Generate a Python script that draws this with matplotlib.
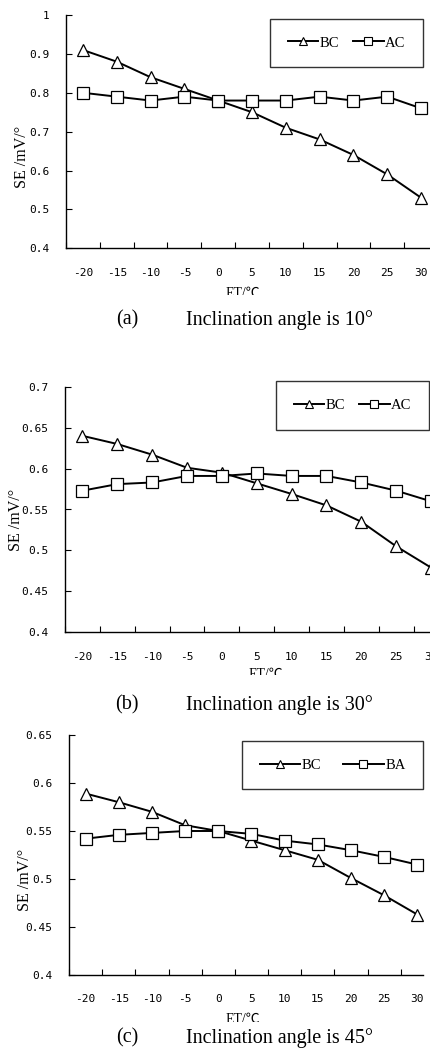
import matplotlib
matplotlib.use("Agg")
import matplotlib.pyplot as plt
from matplotlib.lines import Line2D
from matplotlib.transforms import Bbox

W, H = 430, 1057
DPI = 100

temps = [-20, -15, -10, -5, 0, 5, 10, 15, 20, 25, 30]
tick_labels = ["-20", "-15", "-10", "-5", "0", "5", "10", "15", "20", "25", "30"]

bc_10 = [0.91, 0.88, 0.84, 0.81, 0.78, 0.75, 0.71, 0.68, 0.64, 0.59, 0.53]
ac_10 = [0.80, 0.79, 0.78, 0.79, 0.78, 0.78, 0.78, 0.79, 0.78, 0.79, 0.76]

bc_30 = [0.640, 0.630, 0.617, 0.601, 0.595, 0.582, 0.569, 0.555, 0.535, 0.505, 0.479]
ac_30 = [0.573, 0.581, 0.583, 0.591, 0.591, 0.594, 0.591, 0.591, 0.583, 0.573, 0.560]

bc_45 = [0.589, 0.580, 0.570, 0.556, 0.550, 0.540, 0.530, 0.520, 0.501, 0.483, 0.463]
ba_45 = [0.542, 0.546, 0.548, 0.550, 0.550, 0.547, 0.540, 0.536, 0.530, 0.523, 0.515]

yticks_a = [0.4, 0.5, 0.6, 0.7, 0.8, 0.9, 1.0]
ylabels_a = ["0.4", "0.5", "0.6", "0.7", "0.8", "0.9", "1"]
yticks_b = [0.4, 0.45, 0.5, 0.55, 0.6, 0.65, 0.7]
ylabels_b = ["0.4", "0.45", "0.5", "0.55", "0.6", "0.65", "0.7"]
yticks_c = [0.4, 0.45, 0.5, 0.55, 0.6, 0.65]
ylabels_c = ["0.4", "0.45", "0.5", "0.55", "0.6", "0.65"]

captions = ["(a)", "(b)", "(c)"]
caption_texts = ["Inclination angle is 10°", "Inclination angle is 30°", "Inclination angle is 45°"]

SERIF = ["Liberation Serif", "DejaVu Serif"]
LABELF = ["Liberation Serif", "Noto Sans CJK SC", "DejaVu Sans"]
MONO = "DejaVu Sans Mono"

fig = plt.figure(figsize=(W / DPI, H / DPI), dpi=DPI)


def fx(x):
    return x / W


def fy(y):
    return 1 - y / H


panel_idx = [0]


def make_panel(left, right, top, bottom, xlim, ylim, yt, yl, s1, s2, names,
               leg_box, ylab_xy, xlab_xy, xlab_clip, cap_y, colsp, hlen):
    ax = fig.add_axes([fx(left), fy(bottom), fx(right - left), (bottom - top) / H])
    ax.plot(temps, s1, color="black", lw=1.4, marker="^", ms=8.5,
            mfc="white", mec="black", mew=0.9, clip_on=False, zorder=3)
    ax.plot(temps, s2, color="black", lw=1.4, marker="s", ms=8,
            mfc="white", mec="black", mew=0.9, clip_on=False, zorder=3)
    ax.set_xlim(*xlim)
    ax.set_ylim(*ylim)
    for sp in ["top", "right"]:
        ax.spines[sp].set_visible(False)
    for sp in ["left", "bottom"]:
        ax.spines[sp].set_linewidth(1.0)
    ax.set_xticks(temps)
    ax.set_xticklabels(tick_labels, family=MONO, fontsize=8)
    ax.set_xticks([t + 2.5 for t in temps[:-1]] + [-22.5], minor=True)
    ax.tick_params(axis="x", which="major", length=0, pad=14)
    ax.tick_params(axis="x", which="minor", length=4, direction="in", width=0.8)
    ax.set_yticks(yt)
    ax.set_yticklabels(yl, family=MONO, fontsize=8)
    ax.tick_params(axis="y", which="major", length=4, direction="in", width=0.8, pad=12)

    lx0, ly0, lx1, ly1 = leg_box
    handles = [
        Line2D([], [], color="black", lw=1.4, marker="^", ms=5.5, mfc="white", mec="black", mew=0.8),
        Line2D([], [], color="black", lw=1.4, marker="s", ms=5.5, mfc="white", mec="black", mew=0.8),
    ]
    leg = fig.legend(handles, names, ncol=2, loc="center",
                     bbox_to_anchor=(fx(lx0), fy(ly1), fx(lx1 - lx0), (ly1 - ly0) / H),
                     bbox_transform=fig.transFigure, mode="expand",
                     frameon=True, fancybox=False, edgecolor="black",
                     prop={"family": SERIF, "size": 10.5}, handlelength=hlen,
                     handletextpad=0.1, columnspacing=colsp, borderpad=1.2,
                     borderaxespad=0)
    leg.get_frame().set_linewidth(1.0)

    fig.text(fx(ylab_xy[0]), fy(ylab_xy[1]), "SE /mV/°", rotation=90,
             ha="center", va="center", family=SERIF, fontsize=11.5)
    t = fig.text(fx(xlab_xy[0]), fy(xlab_xy[1]), "ET/℃", ha="center", va="center",
                 family=LABELF, fontsize=10)
    t.set_clip_box(Bbox([[0, H - xlab_clip], [W, H]]))
    t.set_clip_on(True)

    fig.text(fx(127), fy(cap_y), captions[panel_idx[0]], ha="center", va="center",
             family=SERIF, fontsize=14.5)
    fig.text(fx(186), fy(cap_y), caption_texts[panel_idx[0]], ha="left", va="center",
             family=SERIF, fontsize=14.5)
    panel_idx[0] += 1
    return ax


make_panel(66, 438, 15, 248.3, (-22.5, 32.5), (0.4, 1.0), yticks_a, ylabels_a,
           bc_10, ac_10, ["BC", "AC"], (270, 20, 423, 66), (22, 157), (243, 293), 295, 320, 1.0, 2.1)

make_panel(65, 448.5, 386.7, 632.3, (-22.5, 32.5), (0.4, 0.7), yticks_b, ylabels_b,
           bc_30, ac_30, ["BC", "AC"], (276, 383, 429, 428), (16, 520), (266, 674), 675, 705, 1.0, 2.1)

make_panel(69, 423, 735, 975, (-22.5, 30.86), (0.4, 0.65), yticks_c, ylabels_c,
           bc_45, ba_45, ["BC", "BA"], (242, 742, 423, 788), (25, 880), (243, 1019), 1022, 1038, 2.5, 2.8)

fig.savefig("out.png", dpi=DPI)
